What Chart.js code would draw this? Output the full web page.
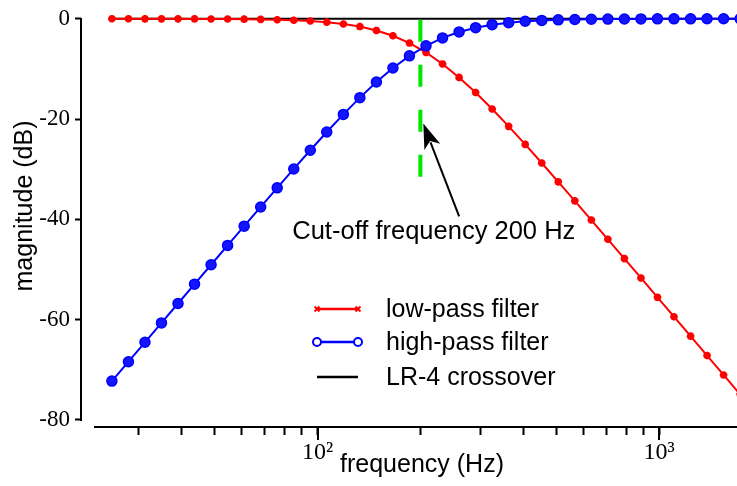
<!DOCTYPE html>
<html>
<head>
<meta charset="utf-8">
<script src="https://cdn.jsdelivr.net/npm/chart.js@4.4.1/dist/chart.umd.min.js"></script>
<style>
  html, body { margin: 0; padding: 0; background: #fff; }
  #wrap { width: 737px; height: 486px; }
</style>
</head>
<body>
<div id="wrap"><canvas id="chart" width="737" height="486"></canvas></div>
<script>
// frequencies of the plotted points (Hz)
const freq = [25.0, 27.95, 31.24, 34.92, 39.04, 43.64, 48.79, 54.54, 60.97, 68.16,
  76.19, 85.18, 95.22, 106.4, 119.0, 133.0, 148.7, 166.2, 185.8, 207.7,
  232.2, 259.6, 290.2, 324.4, 362.6, 405.4, 453.2, 506.6, 566.3, 633.1,
  707.7, 791.2, 884.5, 988.8, 1105, 1236, 1381, 1544, 1726];

// magnitudes in dB
const lowPass = [0.00, 0.00, -0.01, -0.01, -0.01, -0.02, -0.03, -0.05, -0.07, -0.12,
  -0.18, -0.28, -0.44, -0.67, -1.03, -1.55, -2.32, -3.39, -4.84, -6.71,
  -9.00, -11.69, -14.70, -17.98, -21.45, -25.05, -28.75, -32.51, -36.30, -40.13,
  -43.97, -47.82, -51.68, -55.54, -59.41, -63.28, -67.15, -71.02, -74.89];
const highPass = [-72.25, -68.38, -64.51, -60.64, -56.77, -52.91, -49.05, -45.19, -41.35, -37.52,
  -33.71, -29.94, -26.22, -22.58, -19.07, -15.72, -12.61, -9.81, -7.39, -5.39,
  -3.81, -2.62, -1.77, -1.17, -0.77, -0.50, -0.32, -0.21, -0.13, -0.09,
  -0.06, -0.04, -0.02, -0.01, -0.01, -0.01, 0.00, 0.00, 0.00];
const crossover = [0, 0, 0, 0, 0, 0, 0, 0, 0, 0, 0, 0, 0, 0, 0, 0, 0, 0, 0, 0,
  0, 0, 0, 0, 0, 0, 0, 0, 0, 0, 0, 0, 0, 0, 0, 0, 0, 0, 0];

// cut-off marker
const cutoffFreq = 200;
const cutoffSpan = [-31.5, 0];

const xTicks = [30, 40, 50, 60, 70, 80, 90, 100, 200, 300, 400, 500, 600, 700, 800, 900, 1000];
const xLabels = {100: '10²', 1000: '10³'};
const yTicks = [0, -20, -40, -60, -80];
const legendLabels = ['low-pass filter', 'high-pass filter', 'LR-4 crossover'];

const RED = '#ff0000', BLUE = '#0000ff', GREEN = '#00e600';
const SANS = "'Liberation Sans', Arial, sans-serif";
const SERIF = "'Liberation Serif', 'Times New Roman', serif";

function pts(ys) {
  return freq.map((f, i) => ({x: f, y: ys[i]}));
}

const decor = {
  id: 'decor',
  afterDraw(chart) {
    const {ctx, chartArea: a, scales: {x, y}} = chart;
    ctx.save();
    ctx.setLineDash([]);

    // detached axis lines
    ctx.fillStyle = '#000';
    const left = Math.round(a.left);
    const yTop = Math.round(y.getPixelForValue(0)) - 1;
    const yBot = Math.round(y.getPixelForValue(-80)) + 1;
    ctx.fillRect(left - 1, yTop, 2, yBot - yTop);
    ctx.fillRect(left + 13, Math.round(a.bottom) - 1, a.right - left - 13, 2);
    // longer ticks on the decades
    [100, 1000].forEach(v => {
      const px = Math.round(x.getPixelForValue(v));
      ctx.fillRect(px - 1, Math.round(a.bottom), 2, 13);
    });

    // axis titles
    ctx.font = '25px ' + SANS;
    ctx.textAlign = 'center';
    ctx.textBaseline = 'alphabetic';
    ctx.fillText('frequency (Hz)', 422, 472);
    ctx.save();
    ctx.translate(32, 206);
    ctx.rotate(-Math.PI / 2);
    ctx.fillText('magnitude (dB)', 0, 0);
    ctx.restore();

    // arrow + label for the cut-off
    const tipX = x.getPixelForValue(204), tipY = y.getPixelForValue(-20.9);
    const tailX = x.getPixelForValue(259.7), tailY = y.getPixelForValue(-39.4);
    const ang = Math.atan2(tipY - tailY, tipX - tailX);
    const headLen = 25, headW = 8.5;
    ctx.strokeStyle = '#000';
    ctx.lineWidth = 2;
    ctx.beginPath();
    ctx.moveTo(tailX, tailY);
    ctx.lineTo(tipX - Math.cos(ang) * headLen * 0.8, tipY - Math.sin(ang) * headLen * 0.8);
    ctx.stroke();
    ctx.beginPath();
    ctx.moveTo(tipX, tipY);
    ctx.lineTo(tipX - Math.cos(ang) * headLen + Math.sin(ang) * headW,
               tipY - Math.sin(ang) * headLen - Math.cos(ang) * headW);
    ctx.lineTo(tipX - Math.cos(ang) * headLen * 0.75, tipY - Math.sin(ang) * headLen * 0.75);
    ctx.lineTo(tipX - Math.cos(ang) * headLen - Math.sin(ang) * headW,
               tipY - Math.sin(ang) * headLen + Math.cos(ang) * headW);
    ctx.closePath();
    ctx.fill();
    ctx.font = '25.5px ' + SANS;
    ctx.fillText('Cut-off frequency 200 Hz', x.getPixelForValue(218.9), y.getPixelForValue(-43.9));

    // legend
    ctx.font = '25px ' + SANS;
    const ds = chart.data.datasets;
    const rows = [
      {d: ds[1], y: 309, style: 'crossRot', fill: RED, r: 3.5},
      {d: ds[0], y: 342, style: 'circle', fill: '#fff', r: 4},
      {d: ds[3], y: 377, style: false}
    ];
    rows.forEach((row, i) => {
      ctx.strokeStyle = row.d.borderColor;
      ctx.lineWidth = 2.5;
      ctx.beginPath();
      ctx.moveTo(317, row.y);
      ctx.lineTo(358, row.y);
      ctx.stroke();
      if (row.style) {
        ctx.fillStyle = row.fill;
        ctx.lineWidth = 2;
        [317, 358].forEach(px => {
          Chart.helpers.drawPoint(ctx, {pointStyle: row.style, radius: row.r, borderWidth: 2, rotation: 0}, px, row.y);
        });
      }
      ctx.fillStyle = '#000';
      ctx.textAlign = 'left';
      ctx.textBaseline = 'middle';
      ctx.fillText(legendLabels[i], 386, row.y + 1);
    });

    ctx.restore();
  }
};

new Chart(document.getElementById('chart'), {
  type: 'line',
  data: {
    datasets: [
      {
        label: legendLabels[1],
        data: pts(highPass),
        borderColor: BLUE,
        backgroundColor: BLUE,
        borderWidth: 2,
        pointStyle: 'circle',
        pointRadius: 5,
        pointBorderWidth: 1.5,
        pointBackgroundColor: '#1414ff',
        pointBorderColor: BLUE,
        clip: false
      },
      {
        label: legendLabels[0],
        data: pts(lowPass),
        borderColor: RED,
        backgroundColor: RED,
        borderWidth: 2,
        pointStyle: 'star',
        pointRadius: 3.8,
        pointBorderWidth: 2.5,
        pointBorderColor: RED,
        clip: false
      },
      {
        label: 'cut-off',
        data: cutoffSpan.map(v => ({x: cutoffFreq, y: v})),
        borderColor: GREEN,
        borderWidth: 4,
        borderDash: [22, 23],
        pointRadius: 0,
        clip: false
      },
      {
        label: legendLabels[2],
        data: pts(crossover),
        borderColor: '#000',
        borderWidth: 2,
        pointRadius: 0,
        clip: false
      }
    ]
  },
  options: {
    responsive: false,
    animation: false,
    devicePixelRatio: 1,
    layout: {autoPadding: false, padding: {top: 16, right: 0, bottom: 0, left: 0}},
    plugins: {legend: {display: false}, tooltip: {enabled: false}},
    scales: {
      x: {
        type: 'logarithmic',
        min: 20.3,
        max: 1690,
        border: {display: false},
        grid: {drawOnChartArea: false, drawTicks: true, tickLength: 8, tickWidth: 2, tickColor: '#000'},
        afterBuildTicks: s => { s.ticks = xTicks.map(v => ({value: v})); },
        afterFit: s => { s.height = 59; },
        ticks: {
          autoSkip: false,
          maxRotation: 0,
          padding: 3,
          color: '#000',
          font: {family: SERIF, size: 24},
          callback: v => xLabels[v] || ''
        }
      },
      y: {
        min: -81.4,
        max: 0,
        border: {display: false},
        grid: {drawOnChartArea: false, drawTicks: true, tickLength: 6, tickWidth: 2, tickColor: '#000'},
        afterBuildTicks: s => { s.ticks = yTicks.map(v => ({value: v})); },
        afterFit: s => { s.width = 81; },
        ticks: {
          padding: 5,
          color: '#000',
          font: {family: SERIF, size: 23},
          callback: v => String(v)
        }
      }
    }
  },
  plugins: [decor]
});
</script>
</body>
</html>
